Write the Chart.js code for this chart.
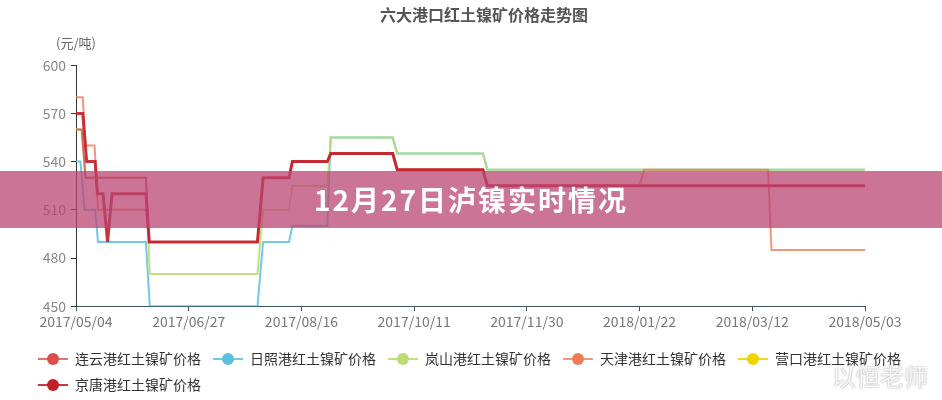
<!DOCTYPE html>
<html>
<head>
<meta charset="utf-8">
<script src="https://cdn.jsdelivr.net/npm/chart.js@4/dist/chart.umd.min.js"></script>
<style>
  body { margin: 0; background: #fff; }
  #wrap { position: relative; width: 942px; height: 400px; font-family: "Noto Sans CJK SC", sans-serif; }
  #banner {
    position: absolute; left: 0; top: 171px; width: 942px; height: 57px;
    background: rgba(185, 70, 115, 0.75);
    color: #fff; font-weight: bold; font-size: 28px; letter-spacing: 2px;
    line-height: 57px; text-align: center;
  }
  #mark {
    position: absolute; left: 832px; top: 358px; font-size: 24px; color: rgba(255,255,255,0.9);
    text-shadow: 0 0 2px #aaa, 0 0 1px #bbb;
  }
</style>
</head>
<body>
<div id="wrap">
  <canvas id="chart"></canvas>
  <div id="banner">12月27日泸镍实时情况</div>
  <div id="mark">以恒老师</div>
</div>
<script>
// x positions are in "tick units": every 10 units is one labelled date
const dateLabels = ['2017/05/04', '2017/06/27', '2017/08/16', '2017/10/11', '2017/11/30', '2018/01/22', '2018/03/12', '2018/05/03'];
const seriesNames = ['连云港红土镍矿价格', '日照港红土镍矿价格', '岚山港红土镍矿价格', '天津港红土镍矿价格', '营口港红土镍矿价格', '京唐港红土镍矿价格'];

const lianyungang = [[0, 560], [0.5, 560], [0.85, 530], [6.2, 530], [6.5, 490], [16.1, 490], [16.6, 530], [18.9, 530], [19.2, 540], [22.3, 540], [22.6, 545], [28.1, 545], [28.5, 535], [36.1, 535], [36.5, 525], [70, 525]];
const rizhao = [[0, 540], [0.4, 540], [0.75, 510], [1.7, 510], [1.95, 490], [6.2, 490], [6.55, 450], [16.1, 450], [16.6, 490], [18.9, 490], [19.2, 500], [22.3, 500], [22.6, 555], [28.1, 555], [28.5, 545], [36.1, 545], [36.5, 535], [70, 535]];
const lanshan = [[0, 560], [0.5, 560], [0.85, 530], [6.2, 530], [6.55, 470], [16.1, 470], [16.6, 510], [18.9, 510], [19.2, 525], [22.3, 525], [22.6, 555], [28.1, 555], [28.5, 545], [36.1, 545], [36.5, 535], [70, 535]];
const tianjin = [[0, 580], [0.6, 580], [0.85, 550], [1.65, 550], [1.95, 510], [6.2, 510], [6.5, 490], [16.1, 490], [16.6, 530], [18.9, 530], [19.2, 540], [22.3, 540], [22.6, 545], [28.1, 545], [28.5, 535], [36.1, 535], [36.5, 525], [50.0, 525], [50.4, 535], [61.4, 535], [61.7, 485], [70, 485]];
const yingkou = [];
const jingtang = [[0, 570], [0.6, 570], [0.95, 540], [1.7, 540], [1.9, 520], [2.4, 520], [2.8, 490], [3.2, 520], [6.2, 520], [6.5, 490], [16.1, 490], [16.6, 530], [18.9, 530], [19.2, 540], [22.3, 540], [22.6, 545], [28.1, 545], [28.5, 535], [36.1, 535], [36.5, 525], [70, 525]];

const yTicks = [450, 480, 510, 540, 570, 600];

const allSeries = [lianyungang, rizhao, lanshan, tianjin, yingkou, jingtang];
const dotColors = ['#dd4e4a', '#5bbfdf', '#bbdd73', '#ee7c57', '#f0d400', '#c11f2a'];
const lineColors = ['rgba(221,78,74,0.8)', 'rgba(91,191,223,0.85)', 'rgba(187,221,115,0.9)', 'rgba(238,124,87,0.8)', 'rgba(240,212,0,0.9)', 'rgba(193,31,42,0.9)'];
const drawOrder = [2, 4, 3, 1, 5, 0];

function legendMarker(color, lineColor) {
  const c = document.createElement('canvas');
  c.width = 30; c.height = 14;
  const g = c.getContext('2d');
  g.strokeStyle = lineColor; g.lineWidth = 2;
  g.beginPath(); g.moveTo(0, 7); g.lineTo(30, 7); g.stroke();
  g.fillStyle = color;
  g.beginPath(); g.arc(15, 7, 6, 0, Math.PI * 2); g.fill();
  return c;
}
const markers = dotColors.map((c, i) => legendMarker(c, lineColors[i]));

const unitLabel = {
  id: 'unitLabel',
  afterDraw(chart) {
    const ctx = chart.ctx;
    const y = chart.scales.y;
    ctx.save();
    ctx.font = '13px "Noto Sans CJK SC"';
    ctx.fillStyle = '#666';
    ctx.textAlign = 'center';
    ctx.textBaseline = 'middle';
    ctx.fillText('(元/吨)', y.right, 43);
    ctx.restore();
  }
};

new Chart(document.getElementById('chart'), {
  type: 'line',
  data: {
    datasets: allSeries.map((s, i) => ({
      label: seriesNames[i],
      data: s.map(p => ({ x: p[0], y: p[1] })),
      borderColor: lineColors[i],
      backgroundColor: dotColors[i],
      borderWidth: i === 5 ? 3 : 2,
      pointRadius: 0,
      tension: 0,
      fill: false,
      order: drawOrder[i],
    }))
  },
  options: {
    responsive: true,
    maintainAspectRatio: false,
    animation: false,
    layout: { padding: { left: 26, right: 0, top: 0, bottom: -2 } },
    font: { family: '"Noto Sans CJK SC", sans-serif' },
    plugins: {
      title: {
        display: true,
        text: '六大港口红土镍矿价格走势图',
        color: '#555',
        font: { size: 16, weight: 'bold', family: '"Noto Sans CJK SC"' },
        padding: { top: 5, bottom: 41 },
      },
      legend: {
        position: 'bottom',
        align: 'start',
        labels: {
          usePointStyle: true,
          pointStyleWidth: 30,
          boxHeight: 14,
          padding: 12,
          color: '#333',
          font: { size: 14, family: '"Noto Sans CJK SC"' },
          sort: (a, b) => a.datasetIndex - b.datasetIndex,
          generateLabels(chart) {
            return Chart.defaults.plugins.legend.labels.generateLabels(chart).map(item => ({
              ...item,
              pointStyle: markers[item.datasetIndex],
            }));
          }
        }
      },
      tooltip: { enabled: false },
    },
    scales: {
      x: {
        type: 'linear',
        min: 0,
        max: 70,
        afterBuildTicks(scale) {
          scale.ticks = dateLabels.map((d, i) => ({ value: i * 10 }));
        },
        afterFit(scale) { scale.height += 8; },
        ticks: {
          callback: (v) => dateLabels[Math.round(v / 10)],
          color: '#777',
          font: { size: 14, family: '"Noto Sans CJK SC"' },
          maxRotation: 0,
          autoSkip: false,
          padding: 2,
        },
        grid: { drawOnChartArea: false, tickLength: 5, color: '#3a5563' },
        border: { color: '#3a5563', width: 1 },
      },
      y: {
        min: 450,
        max: 600,
        afterBuildTicks(scale) {
          scale.ticks = yTicks.map(v => ({ value: v }));
        },
        afterFit(scale) { scale.width = 50; },
        ticks: {
          color: '#888',
          font: { size: 14, family: '"Noto Sans CJK SC"' },
          padding: 5,
        },
        grid: { drawOnChartArea: false, tickLength: 5, color: '#333' },
        border: { color: '#333', width: 1 },
      },
      // empty right-hand box that only reserves the space right of the plot
      spacer: {
        position: 'right',
        afterFit(scale) { scale.width = 77; },
        ticks: { display: false },
        grid: { display: false },
        border: { display: false },
      }
    }
  },
  plugins: [unitLabel]
});
</script>
</body>
</html>
